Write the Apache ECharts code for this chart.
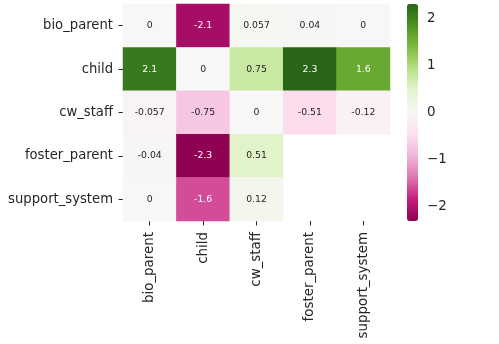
<!DOCTYPE html>
<html>
<head>
<meta charset="utf-8">
<script src="https://cdn.jsdelivr.net/npm/echarts@6/dist/echarts.min.js"></script>
<style>html,body{margin:0;padding:0;background:#fff}#c{width:499px;height:344px}</style>
</head>
<body>
<div id="c"></div>
<script>
const rowLabels = ['bio_parent', 'child', 'cw_staff', 'foster_parent', 'support_system'];
const colLabels = ['bio_parent', 'child', 'cw_staff', 'foster_parent', 'support_system'];
const rowBio = [0, -2.1, 0.057, 0.04, 0];
const rowChild = [2.1, 0, 0.75, 2.3, 1.6];
const rowStaff = [-0.057, -0.75, 0, -0.51, -0.12];
const rowFoster = [-0.04, -2.3, 0.51, null, null];
const rowSupport = [0, -1.6, 0.12, null, null];
const colorbarTicks = [-2, -1, 0, 1, 2];
const vmin = -2.31, vmax = 2.31;

const rows = [rowBio, rowChild, rowStaff, rowFoster, rowSupport];
const PiYG = ['#8e0152','#c51b7d','#de77ae','#f1b6da','#fde0ef','#f7f7f7','#e6f5d0','#b8e186','#7fbc41','#4d9221','#276419'];
const txt = '#262626';
const font = 'DejaVu Sans';

const data = [];
rows.forEach((r, ri) => {
  r.forEach((v, ci) => {
    if (v === null) return;
    data.push({
      value: [ci, ri, v],
      label: { color: Math.abs(v) >= 1.4 ? '#ffffff' : txt }
    });
  });
});

const chart = echarts.init(document.getElementById('c'));
chart.setOption({
  animation: false,
  backgroundColor: '#fff',
  textStyle: { fontFamily: font },
  grid: [
    { left: 123, top: 4, width: 267, height: 217 },
    { left: 407, top: 4, width: 11, height: 217 }
  ],
  xAxis: [
    {
      type: 'category', data: colLabels, gridIndex: 0, position: 'bottom',
      axisLine: { show: false },
      axisTick: { show: true, alignWithLabel: true, length: 4.5, lineStyle: { color: txt, width: 1 } },
      axisLabel: { rotate: 90, color: txt, fontSize: 13.4, fontFamily: font, margin: 11, interval: 0 },
      splitLine: { show: false }
    },
    { type: 'value', gridIndex: 1, show: false, min: 0, max: 1 }
  ],
  yAxis: [
    {
      type: 'category', data: rowLabels, gridIndex: 0, inverse: true,
      axisLine: { show: false },
      axisTick: { show: true, alignWithLabel: true, length: 4.5, lineStyle: { color: txt, width: 1 } },
      axisLabel: { color: txt, fontSize: 13.2, fontFamily: font, margin: 10, interval: 0 },
      splitLine: { show: false }
    },
    {
      type: 'value', gridIndex: 1, position: 'right', min: vmin, max: vmax,
      axisLine: { show: false },
      splitLine: { show: false },
      axisTick: { show: true, inside: false, length: 4.5, customValues: colorbarTicks, lineStyle: { color: txt, width: 1 } },
      axisLabel: { show: true, color: txt, fontSize: 13.4, fontFamily: font, margin: 9, customValues: colorbarTicks,
        formatter: v => (v < 0 ? '\u2212' + Math.abs(v) : String(v)) }
    }
  ],
  visualMap: {
    type: 'continuous', min: vmin, max: vmax, seriesIndex: 0,
    calculable: false, left: 407, top: 4, itemWidth: 11, itemHeight: 217,
    padding: 0, text: null, showLabel: false,
    inRange: { color: PiYG }
  },
  series: [
    {
      type: 'heatmap', xAxisIndex: 0, yAxisIndex: 0, data: data,
      itemStyle: { borderWidth: 0 },
      label: {
        show: true, fontSize: 9.3, fontFamily: font,
        formatter: p => String(Number(p.value[2].toPrecision(2)))
      },
      emphasis: { disabled: true }
    }
  ]
});
</script>
</body>
</html>
